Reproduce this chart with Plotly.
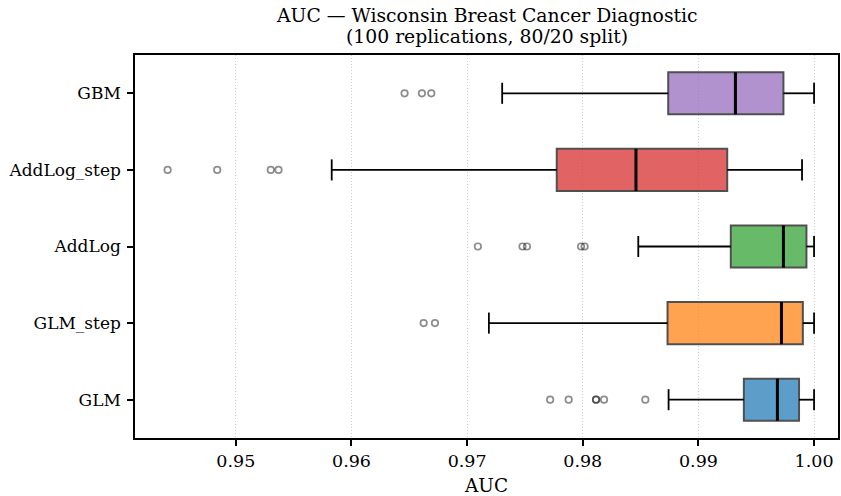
import plotly.graph_objects as go

# ---- data ----
models = ["GLM", "GLM_step", "AddLog", "AddLog_step", "GBM"]
lower_whisker = [0.98742, 0.97188, 0.98480, 0.95829, 0.97303]
q1_vals = [0.99393, 0.98733, 0.99280, 0.97775, 0.98739]
median_vals = [0.99683, 0.99718, 0.99735, 0.98460, 0.99320]
q3_vals = [0.99870, 0.99903, 0.99934, 0.99249, 0.99735]
upper_whisker = [1.00000, 1.00000, 1.00000, 0.99896, 1.00000]

outliers_glm = [0.97718, 0.97878, 0.98115, 0.98115, 0.98184, 0.98541]
outliers_glm_step = [0.96624, 0.96722]
outliers_addlog = [0.97093, 0.97479, 0.97517, 0.97985, 0.98016]
outliers_addlog_step = [0.94410, 0.94839, 0.95302, 0.95369]
outliers_gbm = [0.96459, 0.96609, 0.96690]
outliers = [outliers_glm, outliers_glm_step, outliers_addlog,
            outliers_addlog_step, outliers_gbm]

fill_colors = ["rgba(31,119,180,0.72)", "rgba(255,127,14,0.72)",
               "rgba(44,160,44,0.72)", "rgba(214,39,40,0.72)",
               "rgba(148,103,189,0.72)"]

x_ticks = [0.95, 0.96, 0.97, 0.98, 0.99, 1.00]
x_tick_labels = ["0.95", "0.96", "0.97", "0.98", "0.99", "1.00"]

title_lines = ["AUC — Wisconsin Breast Cancer Diagnostic",
               "(100 replications, 80/20 split)"]

BOX_W = 0.55
CAP_W = BOX_W / 2
FONT = "DejaVu Serif"
FS = 17
TITLE_FS = 18.8

fig = go.Figure()

for i, name in enumerate(models):
    pos = i
    # whiskers + caps
    wx = [lower_whisker[i], q1_vals[i], None, q3_vals[i], upper_whisker[i], None,
          lower_whisker[i], lower_whisker[i], None, upper_whisker[i], upper_whisker[i]]
    wy = [pos, pos, None, pos, pos, None,
          pos - CAP_W / 2, pos + CAP_W / 2, None, pos - CAP_W / 2, pos + CAP_W / 2]
    fig.add_trace(go.Scatter(x=wx, y=wy, mode="lines",
                             line=dict(color="black", width=1.8),
                             showlegend=False, hoverinfo="skip"))
    # box
    fig.add_trace(go.Box(
        y=[pos], orientation="h",
        q1=[q1_vals[i]], median=[median_vals[i]], q3=[q3_vals[i]],
        lowerfence=[q1_vals[i]], upperfence=[q3_vals[i]],
        width=BOX_W, whiskerwidth=0,
        fillcolor=fill_colors[i],
        line=dict(color="#505050", width=2),
        name=name, showlegend=False, boxpoints=False))
    # median
    fig.add_trace(go.Scatter(x=[median_vals[i], median_vals[i]],
                             y=[pos - BOX_W / 2, pos + BOX_W / 2],
                             mode="lines", line=dict(color="black", width=3),
                             showlegend=False, hoverinfo="skip"))
    # outliers
    fig.add_trace(go.Scatter(x=outliers[i], y=[pos] * len(outliers[i]),
                             mode="markers",
                             marker=dict(symbol="circle-open", size=6.5,
                                         color="rgba(0,0,0,0.45)",
                                         line=dict(width=1.7)),
                             showlegend=False, hoverinfo="skip"))

fig.update_layout(
    width=841, height=496,
    margin=dict(l=135, r=1, t=55, b=58),
    paper_bgcolor="white", plot_bgcolor="white",
    font=dict(family=FONT, size=FS, color="black"),
    annotations=[
        dict(text=title_lines[0], x=0.5, xref="paper", xanchor="center",
             y=1, yref="paper", yanchor="middle", yshift=40,
             showarrow=False, font=dict(family=FONT, size=TITLE_FS, color="black")),
        dict(text=title_lines[1], x=0.5, xref="paper", xanchor="center",
             y=1, yref="paper", yanchor="middle", yshift=18.5,
             showarrow=False, font=dict(family=FONT, size=TITLE_FS, color="black")),
    ],
)

fig.update_xaxes(
    range=[0.94128, 1.00207],
    tickvals=x_ticks, ticktext=x_tick_labels,
    showgrid=True, gridcolor="#cfcfcf", griddash="1px,2px", gridwidth=1,
    zeroline=False,
    showline=True, linecolor="black", linewidth=1.5, mirror=True,
    ticks="outside", ticklen=6, tickwidth=1.5, tickcolor="black",
    title=dict(text="AUC", font=dict(family=FONT, size=18.5), standoff=10),
    tickfont=dict(family=FONT, size=17.5),
)
fig.update_yaxes(
    range=[-0.5, 4.5],
    tickvals=list(range(len(models))), ticktext=models,
    showgrid=False, zeroline=False,
    showline=True, linecolor="black", linewidth=1.5, mirror=True,
    ticks="outside", ticklen=6, tickwidth=1.5, tickcolor="black",
    ticklabelstandoff=3,
    tickfont=dict(family=FONT, size=FS),
)

fig.write_html("out.html")
